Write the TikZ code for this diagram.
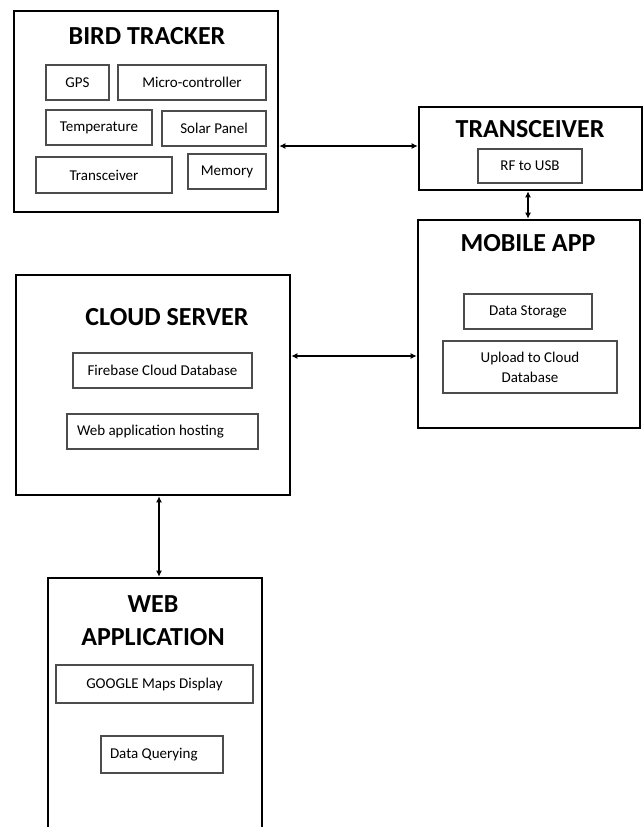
\documentclass[tikz,border=0pt]{standalone}
\usepackage{fontspec}
\setmainfont{Carlito}
\usetikzlibrary{arrows.meta}

\begin{document}
\begin{tikzpicture}[x=1pt,y=-1pt,
  block/.style={draw, line width=2.6pt, inner sep=0pt},
  title/.style={font=\fontsize{26}{33}\selectfont\bfseries, align=center, inner sep=0pt},
  part/.style={draw=black!70, line width=1.1pt, inner sep=0pt,
    font=\fontsize{15}{20}\selectfont, align=center},
  lpart/.style={part, align=flush left, inner xsep=10pt},
  link/.style={{Latex[length=6pt,width=6pt]}-{Latex[length=6pt,width=6pt]}, line width=1.5pt}]

\useasboundingbox (0,0) rectangle (643,827);
\clip (0,0) rectangle (643,827);

% bird tracker
\node (bird) [block, minimum width=264pt, minimum height=201pt] at (146,111.5) {};
\node (birdT) [title] at (147,36) {BIRD TRACKER};
\node (gps) [part, minimum width=63pt, minimum height=35pt] at (77.5,82.5) {GPS};
\node (micro) [part, minimum width=148pt, minimum height=35pt] at (192,82.5) {Micro-controller};
\node (temp) [part, minimum width=106pt, minimum height=35pt] at (99,127.5) {Temperature};
\node (solar) [part, minimum width=104pt, minimum height=35pt] at (214,128.5) {Solar Panel};
\node (radio) [part, minimum width=136pt, minimum height=36pt] at (104,175) {Transceiver};
\node (mem) [part, minimum width=78pt, minimum height=35pt] at (227,171.5) {Memory};

% ground transceiver
\node (trx) [block, minimum width=223pt, minimum height=83pt] at (530.5,148.5) {};
\node (trxT) [title] at (530,129) {TRANSCEIVER};
\node (rfusb) [part, minimum width=104pt, minimum height=34pt] at (530,166) {RF to USB};

% mobile app
\node (mobile) [block, minimum width=222pt, minimum height=208pt] at (529,324) {};
\node (mobileT) [title] at (528,243) {MOBILE APP};
\node (store) [part, minimum width=128pt, minimum height=35pt] at (528,311.5) {Data Storage};
\node (upload) [part, minimum width=174pt, minimum height=52pt] at (530,367) {Upload to Cloud\\Database};

% cloud server
\node (cloud) [block, minimum width=274pt, minimum height=220pt] at (153,385) {};
\node (cloudT) [title] at (167,317) {CLOUD SERVER};
\node (fire) [part, minimum width=179pt, minimum height=35pt] at (162.5,370.5) {Firebase Cloud Database};
\node (host) [lpart, text width=171pt, minimum height=35pt] at (162.5,431.5) {Web application hosting};

% web application (runs off the page)
\node (web) [block, minimum width=214pt, minimum height=302pt] at (155,729) {};
\node (webT) [title] at (153,621) {WEB\\APPLICATION};
\node (maps) [part, minimum width=197pt, minimum height=38pt] at (154.5,684) {GOOGLE Maps Display};
\node (query) [lpart, inner xsep=9pt, text width=104pt, minimum height=37pt] at (162,754.5) {Data Querying};

% links
\draw [link] (bird.east |- 0,146) -- (trx.west |- 0,146);
\draw [link] (trx.south -| 528,0) -- (mobile.north -| 528,0);
\draw [link] (cloud.east |- 0,356) -- (mobile.west |- 0,356);
\draw [link] (cloud.south -| 159,0) -- (web.north -| 159,0);

\end{tikzpicture}
\end{document}
